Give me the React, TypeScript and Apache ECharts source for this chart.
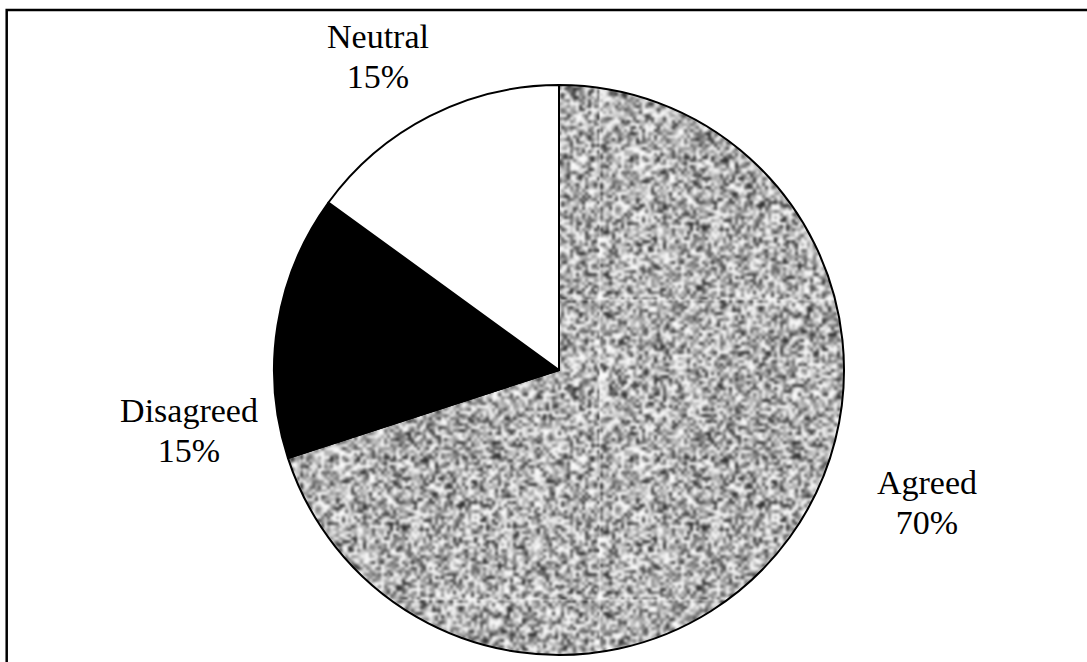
import React, { useEffect, useRef } from "react";
import * as echarts from "echarts";

// Survey response shares (percent)
const categories = ["Agreed", "Disagreed", "Neutral"];
const shares = [70, 15, 15];

// Where each slice's caption sits (page pixels, centre of the text block)
const labelSpots: [number, number][] = [
  [927, 502],
  [189, 430],
  [378, 56],
];

const SERIF = '"Liberation Serif", "Times New Roman", "DejaVu Serif", serif';

// Speckled grey tile used as the fill of the largest slice
function makeGrainTile(): HTMLCanvasElement {
  const n = 100;
  const small = document.createElement("canvas");
  small.width = n;
  small.height = n;
  const sctx = small.getContext("2d")!;
  const img = sctx.createImageData(n, n);
  let seed = 987654321;
  const next = () => {
    seed = (seed * 1664525 + 1013904223) >>> 0;
    return seed / 4294967296;
  };
  for (let i = 0; i < n * n; i++) {
    const v = Math.max(40, Math.min(250, 182 + (next() + next() + next() - 1.5) * 165));
    img.data[i * 4] = v;
    img.data[i * 4 + 1] = v;
    img.data[i * 4 + 2] = v;
    img.data[i * 4 + 3] = 255;
  }
  sctx.putImageData(img, 0, 0);

  // Upscale with wrap-around copies so the softened tile repeats without seams
  const scale = 3;
  const size = n * scale;
  const big = document.createElement("canvas");
  big.width = size;
  big.height = size;
  const bctx = big.getContext("2d")!;
  bctx.imageSmoothingEnabled = true;
  (bctx as any).filter = "blur(1.2px)";
  for (let dx = -1; dx <= 1; dx++) {
    for (let dy = -1; dy <= 1; dy++) {
      bctx.drawImage(small, 0, 0, n, n, dx * size, dy * size, size, size);
    }
  }
  return big;
}

export default function App() {
  const ref = useRef<HTMLDivElement>(null);

  useEffect(() => {
    if (!ref.current) return;
    const chart = echarts.init(ref.current, undefined, { renderer: "svg" });
    const tile = makeGrainTile();
    const fills: any[] = [
      { image: tile, repeat: "repeat", imageWidth: tile.width, imageHeight: tile.height },
      "#000000",
      "#ffffff",
    ];

    chart.setOption({
      animation: false,
      backgroundColor: "#ffffff",
      graphic: [
        {
          type: "rect",
          silent: true,
          shape: { x: 6.7, y: 10, width: 1200, height: 800 },
          style: { fill: "none", stroke: "#000000", lineWidth: 2.5 },
        },
      ],
      series: [
        {
          type: "pie",
          silent: true,
          center: [559, 370],
          radius: 285,
          startAngle: 90,
          clockwise: true,
          avoidLabelOverlap: false,
          itemStyle: { borderColor: "#000000", borderWidth: 2 },
          emphasis: { disabled: true },
          label: {
            show: true,
            position: "outside",
            formatter: (p: any) => `${p.name}\n${p.value}%`,
            fontFamily: SERIF,
            fontSize: 34,
            lineHeight: 40,
            color: "#000000",
            align: "center",
          },
          labelLine: { show: false },
          labelLayout: (params: any) => ({
            x: labelSpots[params.dataIndex][0],
            y: labelSpots[params.dataIndex][1],
            align: "center",
            verticalAlign: "middle",
          }),
          data: categories.map((name, i) => ({
            name,
            value: shares[i],
            itemStyle: { color: fills[i] },
          })),
        },
      ],
    });

    return () => chart.dispose();
  }, []);

  return (
    <div
      ref={ref}
      style={{ position: "absolute", left: 0, top: 0, width: 1087, height: 662, background: "#fff" }}
    />
  );
}
